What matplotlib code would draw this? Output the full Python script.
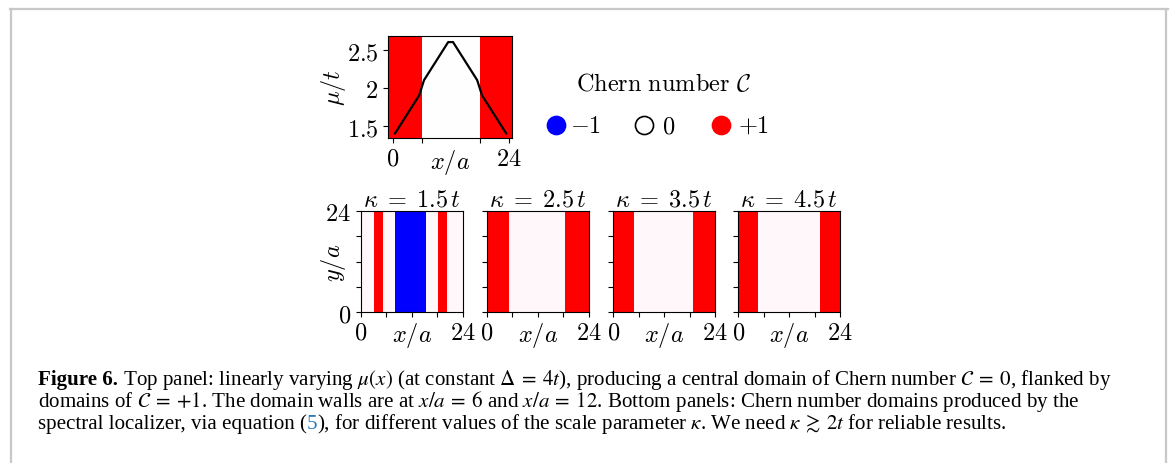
import matplotlib

matplotlib.use("Agg")
import matplotlib.pyplot as plt
from matplotlib.colors import LinearSegmentedColormap
from matplotlib.lines import Line2D

# chemical potential profile mu(x)/t at the kinks of the piecewise-linear ramp
mu_x = [0.5, 5.5, 6.5, 11.5, 12.5, 17.5, 18.5, 23.5]
mu_t = [1.4, 1.9, 2.1, 2.6, 2.6, 2.1, 1.9, 1.4]
# Chern domains of the ideal profile: edges along x and the value inside
top_edges = [-0.95, 6, 18, 24.7]
top_chern = [1, 0, 1]

# spectral-localizer maps, one per kappa: domain edges along x and Chern values
kappas = ["1.5", "2.5", "3.5", "4.5"]
domain_edges = [
    [0, 3.1, 5.3, 8.1, 15.4, 18.3, 20.4, 24],
    [0, 5.2, 18.5, 24],
    [0, 4.9, 18.8, 24],
    [0, 4.7, 19.2, 24],
]
domain_chern = [
    [0, 1, 0, -1, 0, 1, 0],
    [1, 0, 1],
    [1, 0, 1],
    [1, 0, 1],
]
legend_values = ["-1", "0", "+1"]

W, H = 1170, 464
plt.rcParams["mathtext.fontset"] = "cm"
plt.rcParams["axes.linewidth"] = 0.8
plt.rcParams["xtick.major.size"] = 3.5
plt.rcParams["ytick.major.size"] = 3.5
plt.rcParams["xtick.major.width"] = 0.8
plt.rcParams["ytick.major.width"] = 0.8
plt.rcParams["xtick.major.pad"] = 2.0

fig = plt.figure(figsize=(W / 100, H / 100), dpi=100)


def px_rect(left, top, right, bottom):
    return [left / W, 1 - bottom / H, (right - left) / W, (bottom - top) / H]


TICK = 17.5
cmap = LinearSegmentedColormap.from_list("chern", ["#0000ff", "#fff8fa", "#ff0000"])

# top panel: mu(x) over the ideal domain map
ax = fig.add_axes(px_rect(388, 37, 512, 139))
ax.pcolormesh(top_edges, [1.0, 3.0], [top_chern],
              cmap=LinearSegmentedColormap.from_list("w", ["#0000ff", "#ffffff", "#ff0000"]),
              vmin=-1, vmax=1)
ax.plot(mu_x, mu_t, color="black", lw=1.6)
ax.set_xlim(top_edges[0], top_edges[-1])
ax.set_ylim(1.34, 2.68)
ax.set_xticks([0, 6, 18, 24])
ax.set_xticklabels([r"$0$", "", "", r"$24$"], fontsize=TICK)
ax.set_yticks([1.5, 2, 2.5])
ax.set_yticklabels([r"$1.5$", r"$2$", r"$2.5$"], fontsize=TICK)
ax.set_xlabel(r"$x/a$", fontsize=TICK, labelpad=-16)
ax.set_ylabel(r"$\mu/t$", fontsize=TICK, labelpad=-1)

# bottom panels
lefts = [360.7, 486.7, 613.3, 738.3]
for i, (kap, edges, vals) in enumerate(zip(kappas, domain_edges, domain_chern)):
    ax = fig.add_axes(px_rect(lefts[i], 211.7, lefts[i] + 102, 313.3))
    ax.pcolormesh(edges, [0, 24], [vals], cmap=cmap, vmin=-1, vmax=1)
    ax.set_xlim(0, 24)
    ax.set_ylim(0, 24)
    ax.set_xticks([0, 6, 12, 18, 24])
    ax.set_xticklabels([r"$0$", "", "", "", r"$24$"], fontsize=TICK)
    ax.set_yticks([0, 6, 12, 18, 24])
    if i == 0:
        ax.set_yticklabels([r"$0$", "", "", "", r"$24$"], fontsize=TICK)
        ax.set_ylabel(r"$y/a$", fontsize=TICK, labelpad=-16)
    else:
        ax.set_yticklabels([])
    ax.set_xlabel(r"$x/a$", fontsize=TICK, labelpad=-17)
    ax.set_title(r"$\kappa\;=\;%s\,t$" % kap, fontsize=TICK, pad=3)

# Chern-number key: one marker and label per value, sharing a baseline
fig.text(663 / W, 1 - 84 / H, r"$\mathrm{Chern\ number}\ \mathcal{C}$",
         fontsize=TICK, ha="center", va="center")
key_style = [("#0000ff", "#0000ff"), ("white", "black"), ("#ff0000", "#ff0000")]
key_marker_x = [556, 644, 721]
key_text_x = [570, 662, 738]
for val, (fc, ec), mx, tx in zip(legend_values, key_style, key_marker_x, key_text_x):
    fig.add_artist(Line2D([mx / W], [1 - 126 / H], ls="none", marker="o", ms=13,
                          mfc=fc, mec=ec, mew=1.2, transform=fig.transFigure))
    fig.text(tx / W, 1 - 133 / H, r"$%s$" % val, fontsize=TICK,
             ha="left", va="baseline")

# caption box rules
grey = "#c8c8c8"
fig.add_artist(Line2D([10 / W, 1168 / W], [1 - 10 / H, 1 - 10 / H], color=grey, lw=1.6))
fig.add_artist(Line2D([11 / W, 11 / W], [0, 1 - 10 / H], color=grey, lw=1.6))
fig.add_artist(Line2D([1166 / W, 1166 / W], [0, 1 - 10 / H], color=grey, lw=1.6))

# caption, written piece by piece so the bold label and the blue reference fit in
CAP = 15.1
cap_kw = dict(fontsize=CAP, family="Liberation Serif", math_fontfamily="stix",
              va="baseline", ha="left")
caption = [
    [("Figure 6.", dict(weight="bold")),
     (r" Top panel: linearly varying $\mu(x)$ (at constant $\Delta\:=\:4t$), producing a "
      r"central domain of Chern number $\mathcal{C}\:=\:0$, flanked by", {})],
    [(r"domains of $\mathcal{C}\:=\:+1$. The domain walls are at $x/a\:=\:6$ and "
      r"$x/a\:=\:12$. Bottom panels: Chern number domains produced by the", {})],
    [("spectral localizer, via equation (", {}),
     ("5", dict(color="#2a7ab8")),
     (r"), for different values of the scale parameter $\kappa$. We need "
      r"$\kappa\:\gtrsim\:2t$ for reliable results.", {})],
]
baselines = [385, 407, 429]
renderer = fig.canvas.get_renderer()
for base, pieces in zip(baselines, caption):
    x = 38.0
    for s, extra in pieces:
        kw = dict(cap_kw)
        kw.update(extra)
        t = fig.text(x / W, 1 - base / H, s, **kw)
        x += t.get_window_extent(renderer).width

fig.savefig("out.png", dpi=100)
